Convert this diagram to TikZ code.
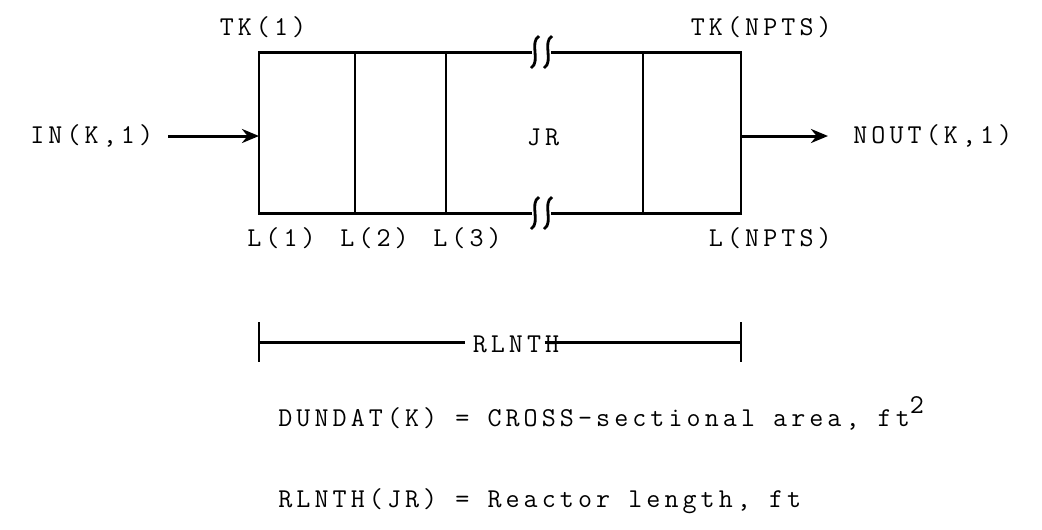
\documentclass[tikz,border=0pt]{standalone}
\usepackage{fontspec}
\setmonofont[LetterSpace=15]{Latin Modern Mono}
\usetikzlibrary{arrows.meta}

\begin{document}
\begin{tikzpicture}[x=0.02cm, y=-0.02cm,
  wall/.style={line width=1.7pt},
  flow/.style={-{Stealth[length=0.34cm,width=0.28cm]}, line width=1.7pt},
  lbl/.style={font=\fontsize{15.5}{18}\selectfont\ttfamily, inner sep=0pt}
]
  \useasboundingbox (0,0) rectangle (1042,529);

  % reactor, broken in the middle
  \draw[wall] (532,52) -- (259,52) -- (259,213) -- (532,213);
  \draw[wall] (551,52) -- (741,52) -- (741,213) -- (551,213);
  \foreach \x in {355,446,643}
    \draw[wall] (\x,52) -- (\x,213);
  \foreach \y in {52,213}
    \foreach \x in {535,548}
      \draw[line width=1.6pt] (\x+4,\y-16) .. controls (\x-6,\y-10) and (\x+6,\y+10) .. (\x-4,\y+16);

  \coordinate (inlet) at (259,136);
  \coordinate (outlet) at (741,136);

  % labels
  \node[lbl] (tk1) at (263,27) {TK(1)};
  \node[lbl, anchor=east] (tkn) at (832,27) {TK(NPTS)};
  \node[lbl, anchor=west] (in) at (30,136) {IN(K,1)};
  \node[lbl] (jr) at (543,137) {JR};
  \node[lbl, anchor=west] (nout) at (853,136) {NOUT(K,1)};
  \node[lbl, anchor=west] (l1) at (247,238) {L(1)};
  \node[lbl, anchor=west] (l2) at (340,238) {L(2)};
  \node[lbl, anchor=west] (l3) at (433,238) {L(3)};
  \node[lbl, anchor=east] (ln) at (832,238) {L(NPTS)};

  \draw[flow, shorten <=0.3cm] (in) -- (inlet);
  \draw[flow, shorten >=0.5cm] (outlet) -- (nout);

  % reactor length
  \coordinate (dl) at (259,342);
  \coordinate (dr) at (741,342);
  \node[lbl] (span) at (516,344) {RLNTH};
  \draw[wall] (259,322) -- (259,362);
  \draw[wall] (741,322) -- (741,362);
  \draw[wall] (dl) -- ([xshift=-0.15cm]dl -| span.west);
  \draw[wall] ([xshift=-0.3cm]dr -| span.east) -- (dr);

  \node[lbl, anchor=base west] (area) at (278,426)
    {DUNDAT(K) = CROSS-sectional area, ft\raisebox{1.1ex}{2}};
  \node[lbl, anchor=base west] (len) at (278,507)
    {RLNTH(JR) = Reactor length, ft};
\end{tikzpicture}
\end{document}
